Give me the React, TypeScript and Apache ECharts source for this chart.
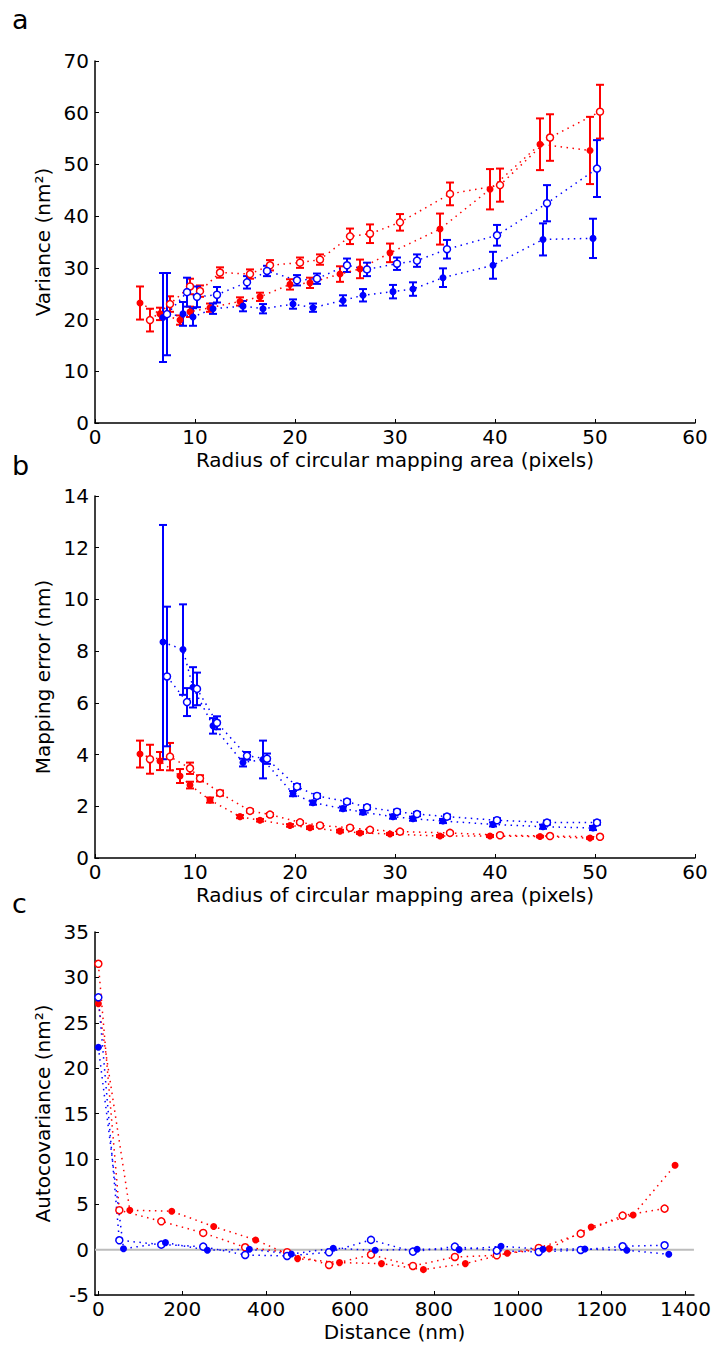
import React, { useEffect, useRef } from 'react';
import * as echarts from 'echarts';

const RED = '#ff0000';
const BLUE = '#0000ff';
const FONT = 'DejaVu Sans';

// Radius of circular mapping area (pixels), offsets per series as plotted
const radiusRedFilled = [4.5, 6.5, 8.5, 9.5, 11.5, 14.5, 16.5, 19.5, 21.5, 24.5, 26.5, 29.5, 34.5, 39.5, 44.5, 49.5];
const radiusRedOpen = [5.5, 7.5, 9.5, 10.5, 12.5, 15.5, 17.5, 20.5, 22.5, 25.5, 27.5, 30.5, 35.5, 40.5, 45.5, 50.5];
const radiusBlueFilled = [6.8, 8.8, 9.8, 11.8, 14.8, 16.8, 19.8, 21.8, 24.8, 26.8, 29.8, 31.8, 34.8, 39.8, 44.8, 49.8];
const radiusBlueOpen = [7.2, 9.2, 10.2, 12.2, 15.2, 17.2, 20.2, 22.2, 25.2, 27.2, 30.2, 32.2, 35.2, 40.2, 45.2, 50.2];

// Panel a: variance (nm^2) and error
const varRedFilled = [23.2, 21.1, 19.9, 21.5, 22.3, 23.5, 24.4, 26.8, 27.1, 28.8, 29.8, 32.9, 37.5, 45.2, 53.9, 52.7];
const varRedFilledErr = [3.2, 1.2, 0.9, 1.0, 0.8, 0.8, 0.8, 1.0, 1.0, 1.5, 1.8, 1.8, 3.0, 3.9, 5.0, 6.5];
const varRedOpen = [19.9, 23.0, 26.4, 25.5, 29.1, 28.8, 30.5, 31.0, 31.6, 36.1, 36.6, 38.8, 44.3, 46.0, 55.2, 60.2];
const varRedOpenErr = [2.2, 1.5, 1.5, 1.1, 1.0, 0.9, 1.0, 1.0, 1.0, 1.5, 1.8, 1.6, 2.2, 3.2, 4.5, 5.2];
const varBlueFilled = [20.4, 21.1, 20.5, 22.1, 22.6, 22.1, 23.0, 22.3, 23.7, 24.7, 25.4, 25.9, 28.1, 30.5, 35.5, 35.7];
const varBlueFilledErr = [8.6, 2.3, 1.7, 1.0, 1.0, 0.9, 0.9, 0.8, 1.0, 1.2, 1.3, 1.3, 1.8, 2.6, 3.1, 3.8];
const varBlueOpen = [21.05, 25.3, 24.4, 24.8, 27.2, 29.4, 27.6, 27.9, 30.5, 29.7, 30.8, 31.4, 33.6, 36.3, 42.5, 49.2];
const varBlueOpenErr = [7.95, 2.8, 2.0, 1.5, 1.2, 1.0, 1.0, 1.0, 1.3, 1.3, 1.2, 1.2, 1.8, 2.0, 3.5, 5.5];

// Panel b: mapping error (nm) and error
const mapRedFilled = [4.02, 3.75, 3.17, 2.82, 2.24, 1.60, 1.46, 1.26, 1.17, 1.04, 0.97, 0.93, 0.85, 0.85, 0.83, 0.77];
const mapRedFilledErr = [0.52, 0.35, 0.27, 0.13, 0.1, 0.06, 0.05, 0.05, 0.05, 0.05, 0.04, 0.04, 0.04, 0.04, 0.03, 0.03];
const mapRedOpen = [3.82, 3.92, 3.47, 3.08, 2.51, 1.82, 1.68, 1.38, 1.26, 1.17, 1.09, 1.02, 0.97, 0.88, 0.85, 0.82];
const mapRedOpenErr = [0.56, 0.53, 0.22, 0.12, 0.1, 0.06, 0.05, 0.05, 0.05, 0.05, 0.04, 0.04, 0.04, 0.04, 0.03, 0.03];
const mapBlueFilled = [8.35, 8.06, 6.6, 5.11, 3.69, 3.81, 2.49, 2.14, 1.91, 1.77, 1.60, 1.52, 1.43, 1.30, 1.21, 1.16];
const mapBlueFilledErr = [4.53, 1.75, 0.78, 0.3, 0.15, 0.73, 0.1, 0.08, 0.08, 0.08, 0.08, 0.08, 0.08, 0.08, 0.08, 0.08];
const mapBlueOpen = [7.02, 6.03, 6.54, 5.23, 3.95, 3.84, 2.76, 2.40, 2.18, 1.96, 1.79, 1.70, 1.60, 1.46, 1.37, 1.37];
const mapBlueOpenErr = [2.7, 0.54, 0.63, 0.25, 0.15, 0.2, 0.1, 0.08, 0.08, 0.08, 0.08, 0.08, 0.08, 0.08, 0.08, 0.08];

// Panel c: autocovariance (nm^2) vs distance (nm)
const distOpen = [0, 50, 150, 250, 350, 450, 550, 650, 750, 850, 950, 1050, 1150, 1250, 1350];
const distRedFilled = [0, 75, 175, 275, 375, 475, 575, 675, 775, 875, 975, 1075, 1175, 1275, 1375];
const distBlueFilled = [0, 60, 160, 260, 360, 460, 560, 660, 760, 860, 960, 1060, 1160, 1260, 1360];
const acovRedOpen = [31.5, 4.34, 3.12, 1.84, 0.26, -0.29, -1.69, -0.55, -1.8, -0.81, -0.62, 0.18, 1.76, 3.75, 4.52];
const acovBlueOpen = [27.8, 1.03, 0.55, 0.33, -0.59, -0.7, -0.29, 1.07, -0.22, 0.33, -0.11, -0.26, -0.04, 0.37, 0.48];
const acovRedFilled = [27.1, 4.34, 4.23, 2.54, 1.07, -0.99, -1.43, -1.54, -2.2, -1.54, -0.4, 0.11, 2.5, 3.82, 9.3];
const acovBlueFilled = [22.3, 0.1, 0.77, -0.07, 0.04, -0.48, 0.15, -0.07, 0.04, 0.0, 0.37, 0.04, 0.07, -0.07, -0.51];

const distTicks = [0, 200, 400, 600, 800, 1000, 1200, 1400];
const DIST_MIN = -8;
const DIST_MAX = 1420;

function errSeries(xs: number[], ys: number[], es: number[], color: string, idx: number) {
  return {
    type: 'custom',
    xAxisIndex: idx,
    yAxisIndex: idx,
    silent: true,
    z: 2,
    encode: { x: 0, y: [1, 2] },
    data: xs.map((x, i) => [x, ys[i] - es[i], ys[i] + es[i]]),
    renderItem: (params: any, api: any) => {
      const x = api.value(0);
      const lo = api.coord([x, api.value(1)]);
      const hi = api.coord([x, api.value(2)]);
      const cap = 4;
      const st = { stroke: color, lineWidth: 2 };
      return {
        type: 'group',
        children: [
          { type: 'line', shape: { x1: lo[0], y1: lo[1], x2: hi[0], y2: hi[1] }, style: st },
          { type: 'line', shape: { x1: lo[0] - cap, y1: lo[1], x2: lo[0] + cap, y2: lo[1] }, style: st },
          { type: 'line', shape: { x1: hi[0] - cap, y1: hi[1], x2: hi[0] + cap, y2: hi[1] }, style: st },
        ],
      };
    },
  };
}

function lineSeries(xs: number[], ys: number[], color: string, filled: boolean, idx: number) {
  return {
    type: 'line',
    xAxisIndex: idx,
    yAxisIndex: idx,
    silent: true,
    z: 3,
    data: xs.map((x, i) => [x, ys[i]]),
    symbol: 'circle',
    symbolSize: 7,
    showAllSymbol: true,
    lineStyle: { color, width: 1.5, type: [1.5, 4.5] },
    itemStyle: filled
      ? { color, borderWidth: 0 }
      : { color: '#ffffff', borderColor: color, borderWidth: 1.5 },
  };
}

function axisCommon(name: string, gap: number) {
  return {
    name,
    nameLocation: 'middle',
    nameGap: gap,
    nameTextStyle: { fontSize: 20, color: '#000', fontFamily: FONT, lineHeight: 20 },
    axisLine: { show: true, onZero: false, lineStyle: { color: '#000', width: 1.5 } },
    axisTick: { show: true, inside: true, length: 4, lineStyle: { color: '#000', width: 1 } },
    splitLine: { show: false },
  };
}

const plain = (v: number) => String(v);

export default function App() {
  const ref = useRef<HTMLDivElement>(null);
  useEffect(() => {
    if (!ref.current) return;
    const chart = echarts.init(ref.current, null, { renderer: 'svg' });
    const labelX = { color: '#000', fontSize: 20, fontFamily: FONT, margin: 4, lineHeight: 20, formatter: plain };
    const labelY = { color: '#000', fontSize: 20, fontFamily: FONT, margin: 6, formatter: plain };
    const option: any = {
      animation: false,
      backgroundColor: '#fff',
      grid: [
        { left: 95, top: 61, width: 600, height: 362 },
        { left: 95, top: 496, width: 600, height: 362 },
        { left: 95, top: 932, width: 600, height: 363 },
      ],
      xAxis: [
        { ...axisCommon('Radius of circular mapping area (pixels)', 27), type: 'value', gridIndex: 0, min: 0, max: 60, interval: 10, axisLabel: labelX },
        { ...axisCommon('Radius of circular mapping area (pixels)', 27), type: 'value', gridIndex: 1, min: 0, max: 60, interval: 10, axisLabel: labelX },
        {
          ...axisCommon('Distance (nm)', 27),
          type: 'value', gridIndex: 2, min: DIST_MIN, max: DIST_MAX,
          axisLabel: { ...labelX, customValues: distTicks },
          axisTick: { show: true, inside: true, length: 4, lineStyle: { color: '#000', width: 1 }, customValues: distTicks },
        },
      ],
      yAxis: [
        { ...axisCommon('Variance (nm²)', 38), type: 'value', gridIndex: 0, min: 0, max: 70, interval: 10, axisLabel: labelY },
        { ...axisCommon('Mapping error (nm)', 38), type: 'value', gridIndex: 1, min: 0, max: 14, interval: 2, axisLabel: labelY },
        { ...axisCommon('Autocovariance (nm²)', 38), type: 'value', gridIndex: 2, min: -5, max: 35, interval: 5, axisLabel: labelY },
      ],
      graphic: [
        { type: 'text', left: 12, top: 6, style: { text: 'a', fontSize: 27, fontFamily: FONT, fill: '#000' } },
        { type: 'text', left: 12, top: 452, style: { text: 'b', fontSize: 27, fontFamily: FONT, fill: '#000' } },
        { type: 'text', left: 12, top: 890, style: { text: 'c', fontSize: 27, fontFamily: FONT, fill: '#000' } },
      ],
      series: [
        errSeries(radiusRedFilled, varRedFilled, varRedFilledErr, RED, 0),
        errSeries(radiusRedOpen, varRedOpen, varRedOpenErr, RED, 0),
        errSeries(radiusBlueFilled, varBlueFilled, varBlueFilledErr, BLUE, 0),
        errSeries(radiusBlueOpen, varBlueOpen, varBlueOpenErr, BLUE, 0),
        lineSeries(radiusRedFilled, varRedFilled, RED, true, 0),
        lineSeries(radiusRedOpen, varRedOpen, RED, false, 0),
        lineSeries(radiusBlueFilled, varBlueFilled, BLUE, true, 0),
        lineSeries(radiusBlueOpen, varBlueOpen, BLUE, false, 0),

        errSeries(radiusRedFilled, mapRedFilled, mapRedFilledErr, RED, 1),
        errSeries(radiusRedOpen, mapRedOpen, mapRedOpenErr, RED, 1),
        errSeries(radiusBlueFilled, mapBlueFilled, mapBlueFilledErr, BLUE, 1),
        errSeries(radiusBlueOpen, mapBlueOpen, mapBlueOpenErr, BLUE, 1),
        lineSeries(radiusRedFilled, mapRedFilled, RED, true, 1),
        lineSeries(radiusRedOpen, mapRedOpen, RED, false, 1),
        lineSeries(radiusBlueFilled, mapBlueFilled, BLUE, true, 1),
        lineSeries(radiusBlueOpen, mapBlueOpen, BLUE, false, 1),

        {
          type: 'line', xAxisIndex: 2, yAxisIndex: 2, silent: true, z: 1,
          data: [[DIST_MIN, 0], [DIST_MAX, 0]], symbol: 'none',
          lineStyle: { color: '#bdbdbd', width: 2, type: 'solid' },
        },
        lineSeries(distOpen, acovRedOpen, RED, false, 2),
        lineSeries(distRedFilled, acovRedFilled, RED, true, 2),
        lineSeries(distOpen, acovBlueOpen, BLUE, false, 2),
        lineSeries(distBlueFilled, acovBlueFilled, BLUE, true, 2),
      ],
    };
    chart.setOption(option);
    return () => chart.dispose();
  }, []);
  return (
    <div
      ref={ref}
      style={{ position: 'fixed', left: 0, top: 0, width: 714, height: 1345, background: '#fff' }}
    />
  );
}
